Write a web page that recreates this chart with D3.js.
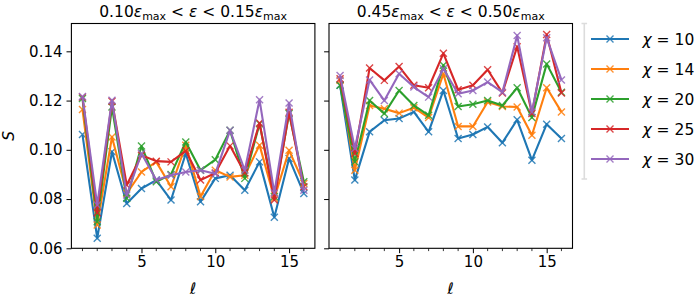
<!DOCTYPE html>
<html>
<head>
<meta charset="utf-8">
<script src="https://cdn.jsdelivr.net/npm/d3@7"></script>
<style>
  body { margin: 0; background: #fff; }
  text { font-family: "DejaVu Sans", sans-serif; }
</style>
</head>
<body>
<div id="chart"></div>
<script>
var svgWidth = 700;
var svgHeight = 300;

// data
var ells = d3.range(1, 17);
var chis = [10, 14, 20, 25, 30];
var colors = ["#1f77b4", "#ff7f0e", "#2ca02c", "#d62728", "#9467bd"];

var titles = [["0.10", "0.15"], ["0.45", "0.50"]];

// left panel: 0.10 < eps < 0.15
var leftChi10 = [0.1062, 0.0641, 0.0992, 0.0782, 0.0843, 0.0877, 0.0796, 0.0985, 0.0789, 0.0884, 0.0897, 0.0836, 0.0951, 0.0726, 0.0965, 0.0823];
var leftChi14 = [0.1164, 0.0695, 0.1052, 0.0823, 0.0910, 0.0951, 0.0850, 0.1019, 0.0810, 0.0917, 0.0890, 0.0897, 0.1019, 0.0803, 0.0998, 0.0863];
var leftChi20 = [0.1208, 0.0708, 0.1174, 0.0803, 0.1015, 0.0870, 0.0900, 0.1032, 0.0917, 0.0960, 0.1079, 0.0884, 0.1106, 0.0810, 0.1147, 0.0870];
var leftChi25 = [0.1214, 0.0744, 0.1197, 0.0857, 0.0978, 0.0954, 0.0951, 0.0996, 0.0877, 0.0906, 0.1016, 0.0906, 0.1109, 0.0796, 0.1153, 0.0850];
var leftChi30 = [0.1217, 0.0776, 0.1201, 0.0816, 0.0985, 0.0877, 0.0897, 0.0910, 0.0917, 0.0903, 0.1079, 0.0917, 0.1203, 0.0825, 0.1190, 0.0836];

// right panel: 0.45 < eps < 0.50
var rightChi10 = [0.1262, 0.0877, 0.1073, 0.1120, 0.1127, 0.1154, 0.1073, 0.1241, 0.1046, 0.1062, 0.1093, 0.1029, 0.1122, 0.0958, 0.1104, 0.1046];
var rightChi14 = [0.1282, 0.0917, 0.1180, 0.1167, 0.1149, 0.1171, 0.1131, 0.1309, 0.1095, 0.1095, 0.1194, 0.1176, 0.1174, 0.1059, 0.1252, 0.1154];
var rightChi20 = [0.1262, 0.0951, 0.1200, 0.1147, 0.1241, 0.1180, 0.1140, 0.1343, 0.1176, 0.1185, 0.1200, 0.1180, 0.1252, 0.1131, 0.1349, 0.1234];
var rightChi25 = [0.1289, 0.0985, 0.1332, 0.1282, 0.1338, 0.1262, 0.1252, 0.1392, 0.1244, 0.1262, 0.1325, 0.1231, 0.1419, 0.1147, 0.1468, 0.1231];
var rightChi30 = [0.1302, 0.1005, 0.1284, 0.1200, 0.1309, 0.1255, 0.1214, 0.1329, 0.1228, 0.1241, 0.1275, 0.1234, 0.1464, 0.1154, 0.1455, 0.1284];

var panels = [
  [leftChi10, leftChi14, leftChi20, leftChi25, leftChi30],
  [rightChi10, rightChi14, rightChi20, rightChi25, rightChi30]
];

var yTicks = [0.06, 0.08, 0.10, 0.12, 0.14];
var xTicks = [5, 10, 15];

// panel geometry
var panelLeft = [71.4, 329];
var panelWidth = 243.5;
var plotTop = 23.5;
var plotBottom = 248.3;

var svg = d3.select("#chart")
  .append("svg")
  .attr("width", svgWidth)
  .attr("height", svgHeight);

var yScale = d3.scaleLinear()
  .domain([0.06, 0.1513])
  .range([plotBottom, plotTop]);

function epsTitle(g, lo, hi) {
  var t = g.append("text")
    .attr("text-anchor", "middle")
    .attr("font-size", 15.5);
  t.append("tspan").text(lo);
  t.append("tspan").attr("font-style", "italic").text("ε");
  t.append("tspan").attr("font-size", 11).attr("dy", 3).text("max");
  t.append("tspan").attr("dy", -3).text(" < ");
  t.append("tspan").attr("font-style", "italic").text("ε");
  t.append("tspan").text(" < " + hi);
  t.append("tspan").attr("font-style", "italic").text("ε");
  t.append("tspan").attr("font-size", 11).attr("dy", 3).text("max");
  return t;
}

panels.forEach(function(series, p) {
  var x0 = panelLeft[p];
  var g = svg.append("g");

  var xScale = d3.scaleLinear()
    .domain([0.25, 16.75])
    .range([x0, x0 + panelWidth]);

  // lines + markers
  series.forEach(function(vals, i) {
    var line = d3.line()
      .x(function(d, j) { return xScale(ells[j]); })
      .y(function(d) { return yScale(d); });

    g.append("path")
      .datum(vals)
      .attr("d", line)
      .attr("fill", "none")
      .attr("stroke", colors[i])
      .attr("stroke-width", 2.1)
      .attr("stroke-linejoin", "round");

    g.selectAll(null)
      .data(vals)
      .enter()
      .append("path")
      .attr("d", "M-3.5,-3.5L3.5,3.5M-3.5,3.5L3.5,-3.5")
      .attr("transform", function(d, j) {
        return "translate(" + xScale(ells[j]) + "," + yScale(d) + ")";
      })
      .attr("stroke", colors[i])
      .attr("stroke-width", 1.4)
      .attr("opacity", 0.85);
  });

  // x axis: majors with labels, minors at every integer
  var xAxis = d3.axisBottom(xScale)
    .tickValues(xTicks)
    .tickSize(4.9)
    .tickPadding(3)
    .tickFormat(d3.format("d"));
  var xg = g.append("g")
    .attr("transform", "translate(0," + plotBottom + ")")
    .call(xAxis);
  xg.select(".domain").remove();
  xg.selectAll("text").attr("font-size", 15).attr("fill", "#000");

  var minors = ells.filter(function(d) { return xTicks.indexOf(d) < 0; });
  g.selectAll(null)
    .data(minors)
    .enter()
    .append("line")
    .attr("x1", function(d) { return xScale(d); })
    .attr("x2", function(d) { return xScale(d); })
    .attr("y1", plotBottom)
    .attr("y2", plotBottom + 2.8)
    .attr("stroke", "#000")
    .attr("stroke-width", 0.8);

  // y axis
  var yAxis = d3.axisLeft(yScale)
    .tickValues(yTicks)
    .tickSize(4.9)
    .tickPadding(4)
    .tickFormat(p === 0 ? d3.format(".2f") : "");
  var yg = g.append("g")
    .attr("transform", "translate(" + x0 + ",0)")
    .call(yAxis);
  yg.select(".domain").remove();
  yg.selectAll("text").attr("font-size", 15).attr("fill", "#000");

  // frame
  g.append("rect")
    .attr("x", x0)
    .attr("y", plotTop)
    .attr("width", panelWidth)
    .attr("height", plotBottom - plotTop)
    .attr("fill", "none")
    .attr("stroke", "#000")
    .attr("stroke-width", 1.1);

  // title
  epsTitle(g, titles[p][0], titles[p][1])
    .attr("x", x0 + panelWidth / 2)
    .attr("y", 17);

  // x label
  g.append("text")
    .attr("x", x0 + panelWidth / 2)
    .attr("y", 294)
    .attr("text-anchor", "middle")
    .attr("font-size", 15.5)
    .attr("font-style", "italic")
    .text("ℓ");
});

// y label
svg.append("text")
  .attr("transform", "translate(14," + (plotTop + plotBottom) / 2 + ") rotate(-90)")
  .attr("text-anchor", "middle")
  .attr("font-size", 15.5)
  .attr("font-style", "italic")
  .text("S");

// legend
var legend = svg.append("g");
legend.append("path")
  .attr("d", "M584.3,23.5V179M581.5,23.5H587.1M581.5,179H587.1")
  .attr("stroke", "#dcdcdc")
  .attr("stroke-width", 1.6)
  .attr("fill", "none");

chis.forEach(function(chi, i) {
  var yy = 39 + i * 30;
  legend.append("line")
    .attr("x1", 591).attr("x2", 629)
    .attr("y1", yy).attr("y2", yy)
    .attr("stroke", colors[i])
    .attr("stroke-width", 2.1);
  legend.append("path")
    .attr("d", "M-3.5,-3.5L3.5,3.5M-3.5,3.5L3.5,-3.5")
    .attr("transform", "translate(610," + yy + ")")
    .attr("stroke", colors[i])
    .attr("stroke-width", 1.4)
    .attr("opacity", 0.85);
  var t = legend.append("text")
    .attr("x", 642.5)
    .attr("y", yy + 5.5)
    .attr("font-size", 15.5);
  t.append("tspan").attr("font-style", "italic").text("χ");
  t.append("tspan").text(" = " + chi);
});
</script>
</body>
</html>
